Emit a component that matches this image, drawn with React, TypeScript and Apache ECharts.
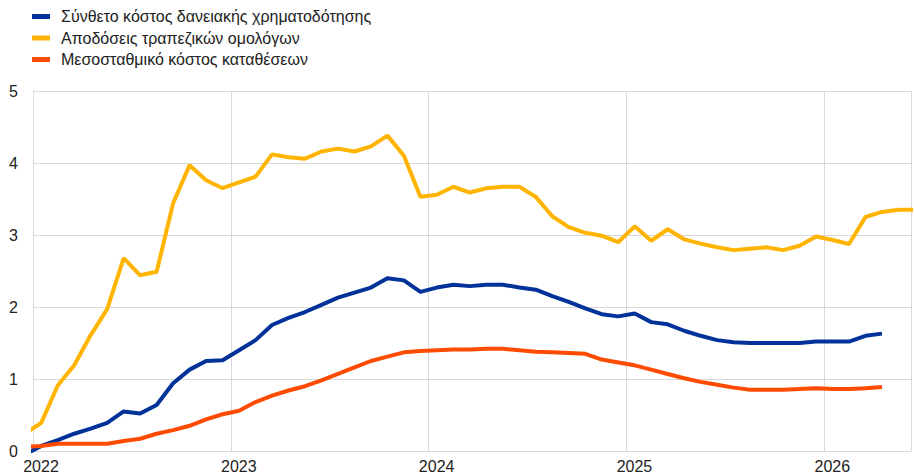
import React, { useEffect, useRef } from "react";
import * as echarts from "echarts";

// Monthly observations, starting Dec 2021 (the first one sits outside the plot, clipped)
const startYear = 2021;
const startMonth = 12;

const seriesNames = [
  "Σύνθετο κόστος δανειακής χρηματοδότησης",
  "Αποδόσεις τραπεζικών ομολόγων",
  "Μεσοσταθμικό κόστος καταθέσεων",
];

const compositeCost = [
  -0.05, 0.07, 0.15, 0.24, 0.31, 0.39, 0.55, 0.52, 0.64, 0.94, 1.13, 1.25, 1.26,
  1.40, 1.54, 1.75, 1.85, 1.93, 2.03, 2.13, 2.20, 2.27, 2.40, 2.37, 2.21,
  2.27, 2.31, 2.29, 2.31, 2.31, 2.27, 2.24, 2.15, 2.07, 1.98, 1.90, 1.87,
  1.91, 1.79, 1.76, 1.67, 1.60, 1.54, 1.51, 1.50, 1.50, 1.50, 1.50, 1.52,
  1.52, 1.52, 1.60, 1.63,
];

const bankBondYields = [
  0.24, 0.39, 0.91, 1.19, 1.61, 1.97, 2.68, 2.44, 2.49, 3.44, 3.97, 3.76, 3.65,
  3.73, 3.81, 4.12, 4.08, 4.06, 4.16, 4.20, 4.16, 4.23, 4.38, 4.10, 3.53,
  3.56, 3.67, 3.59, 3.65, 3.67, 3.67, 3.53, 3.26, 3.11, 3.03, 2.99, 2.90,
  3.12, 2.92, 3.08, 2.94, 2.88, 2.83, 2.79, 2.81, 2.83, 2.79, 2.85, 2.98,
  2.93, 2.875, 3.25, 3.32, 3.35, 3.35,
];

const depositCost = [
  0.06, 0.07, 0.10, 0.10, 0.10, 0.10, 0.14, 0.17, 0.24, 0.29, 0.35, 0.44, 0.51,
  0.56, 0.68, 0.77, 0.84, 0.90, 0.98, 1.07, 1.16, 1.25, 1.31, 1.37, 1.39,
  1.40, 1.41, 1.41, 1.42, 1.42, 1.40, 1.38, 1.37, 1.36, 1.35, 1.27, 1.23,
  1.19, 1.13, 1.07, 1.01, 0.96, 0.92, 0.88, 0.85, 0.85, 0.85, 0.86, 0.87,
  0.86, 0.86, 0.87, 0.89,
];

const yearLabels = ["2022", "2023", "2024", "2025", "2026"];
const colors = ["#003299", "#FFB400", "#FF4B00"];

// x position in months since Jan 2022, at the middle of the month
const toPoints = (vals: number[]) =>
  vals.map((v, i) => {
    const m = (startYear - 2022) * 12 + (startMonth - 1) + i;
    return [m + 0.5, v];
  });

export default function App() {
  const ref = useRef<HTMLDivElement>(null);
  useEffect(() => {
    if (!ref.current) return;
    const chart = echarts.init(ref.current, null, { renderer: "svg" });
    const font = "'Liberation Sans', Arial, sans-serif";
    chart.setOption({
      animation: false,
      textStyle: { fontFamily: font },
      legend: {
        orient: "vertical",
        left: 32,
        top: 8,
        padding: 0,
        itemWidth: 18,
        itemHeight: 5,
        itemGap: 4.5,
        icon: "rect",
        textStyle: {
          fontSize: 16,
          lineHeight: 17,
          color: "#222",
          fontFamily: font,
          padding: [0, 0, 0, 6],
        },
        data: seriesNames,
      },
      grid: { left: 33, right: 0, top: 91, bottom: 25, containLabel: false },
      xAxis: {
        type: "value",
        min: 0,
        max: 53.26,
        interval: 12,
        axisLine: { show: true, lineStyle: { color: "#d9d9d9", width: 1 } },
        axisTick: { show: false },
        splitLine: { show: true, lineStyle: { color: "#d9d9d9", width: 1 } },
        axisLabel: {
          fontSize: 16,
          color: "#222",
          margin: 7,
          padding: [0, 0, 0, 16],
          fontFamily: font,
          formatter: (v: number) => {
            const k = Math.round(v / 12);
            return Math.abs(v - k * 12) < 1e-6 && yearLabels[k] ? yearLabels[k] : "";
          },
        },
      },
      yAxis: {
        type: "value",
        min: 0,
        max: 5,
        interval: 1,
        axisLine: { show: true, lineStyle: { color: "#d9d9d9", width: 1 } },
        axisTick: { show: false },
        splitLine: { show: true, lineStyle: { color: "#d9d9d9", width: 1 } },
        axisLabel: { fontSize: 16, color: "#222", margin: 15, fontFamily: font },
      },
      series: [
        { name: seriesNames[0], data: toPoints(compositeCost), color: colors[0] },
        { name: seriesNames[1], data: toPoints(bankBondYields), color: colors[1] },
        { name: seriesNames[2], data: toPoints(depositCost), color: colors[2] },
      ].map((s) => ({
        ...s,
        type: "line",
        showSymbol: false,
        symbol: "none",
        clip: true,
        lineStyle: { width: 4, color: s.color },
        itemStyle: { color: s.color },
      })),
    });
    return () => chart.dispose();
  }, []);
  return (
    <div
      ref={ref}
      style={{ position: "absolute", left: 0, top: 0, width: 914, height: 476 }}
    />
  );
}
